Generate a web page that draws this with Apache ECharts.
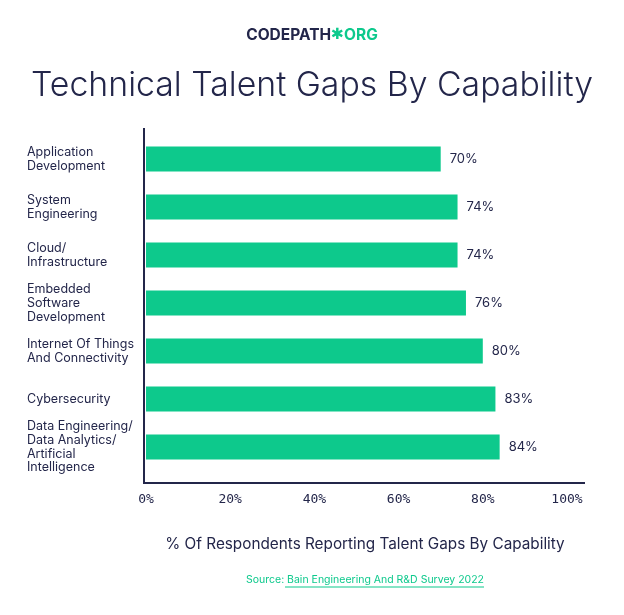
<!DOCTYPE html>
<html><head><meta charset="utf-8">
<script src="https://cdn.jsdelivr.net/npm/echarts@6/dist/echarts.min.js"></script>
<style>html,body{margin:0;padding:0;background:#fff}#c{width:624px;height:615px}</style>
</head><body><div id="c"></div>
<script>
const categories = [
  "Application\nDevelopment",
  "System\nEngineering",
  "Cloud/\nInfrastructure",
  "Embedded\nSoftware\nDevelopment",
  "Internet Of Things\nAnd Connectivity",
  "Cybersecurity",
  "Data Engineering/\nData Analytics/\nArtificial\nIntelligence"
];
const values = [70, 74, 74, 76, 80, 83, 84];
const xTicks = [0, 20, 40, 60, 80, 100];

const navy = '#23264a';
const green = '#0dc98c';
const chart = echarts.init(document.getElementById('c'));
chart.setOption({
  backgroundColor: '#fff',
  animation: false,
  grid: { left: 146, right: 57, top: 135, height: 336, containLabel: false },
  xAxis: {
    type: 'value', min: 0, max: 100, interval: 20,
    axisLine: { show: false }, axisTick: { show: false }, splitLine: { show: false },
    axisLabel: { color: navy, fontSize: 13, fontFamily: 'DejaVu Sans Mono', margin: 22,
      formatter: v => xTicks.includes(v) ? v + '%' : '' }
  },
  yAxis: {
    type: 'category', data: categories, inverse: true,
    axisLine: { show: false }, axisTick: { show: false },
    axisLabel: { align: 'left', margin: 119, color: navy, fontSize: 12.5, lineHeight: 13.8, fontFamily: 'Inter' }
  },
  series: [{
    type: 'bar', data: values, barWidth: 25,
    itemStyle: { color: green },
    label: { show: true, position: 'right', distance: 9, color: navy, fontSize: 13, fontFamily: 'Inter', formatter: '{c}%' }
  }],
  graphic: [
    { type: 'line', shape: { x1: 144, y1: 128, x2: 144, y2: 484 }, style: { stroke: navy, lineWidth: 2 } },
    { type: 'line', shape: { x1: 143, y1: 483, x2: 585, y2: 483 }, style: { stroke: navy, lineWidth: 2 } },
    { type: 'text', x: 312, y: 35, style: { align: 'center', verticalAlign: 'middle', rich: { a: { fill: navy, fontSize: 15.5, fontWeight: 'bold', fontFamily: 'Inter' }, b: { fill: green, fontSize: 15.5, fontWeight: 'bold', fontFamily: 'DejaVu Sans' }, c: { fill: green, fontSize: 15.5, fontWeight: 'bold', fontFamily: 'Inter' } }, text: '{a|CODEPATH}{b|✱}{c|ORG}' } },
    { type: 'text', x: 312, y: 86, style: { text: 'Technical Talent Gaps By Capability', fill: navy, fontSize: 33.8, fontFamily: 'Inter', fontWeight: 300, align: 'center', verticalAlign: 'middle' } },
    { type: 'text', x: 365, y: 544, style: { text: '% Of Respondents Reporting Talent Gaps By Capability', fill: navy, fontSize: 15.3, fontFamily: 'Inter', align: 'center', verticalAlign: 'middle' } },
    { type: 'text', x: 365, y: 580, style: { rich: { s: { fill: green, fontSize: 10.5, fontFamily: 'Inter' } }, text: '{s|Source: Bain Engineering And R&D Survey 2022}', align: 'center', verticalAlign: 'middle' } },
    { type: 'line', shape: { x1: 285, y1: 587, x2: 484, y2: 587 }, style: { stroke: green, lineWidth: 1 } }
  ]
});
</script></body></html>
